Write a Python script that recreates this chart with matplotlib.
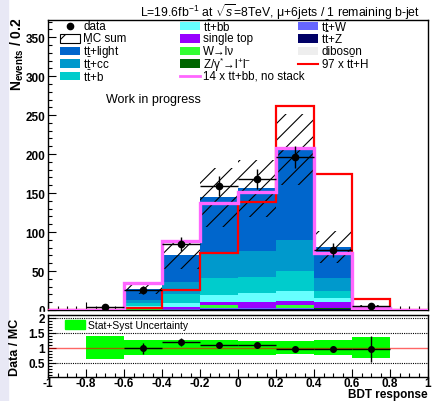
import numpy as np
import matplotlib.pyplot as plt
from matplotlib.patches import Rectangle
from matplotlib.ticker import MultipleLocator

plt.rcParams['font.family'] = ['Liberation Sans', 'DejaVu Sans']
plt.rcParams['mathtext.fontset'] = 'custom'
plt.rcParams['mathtext.rm'] = 'Liberation Sans'
plt.rcParams['mathtext.it'] = 'Liberation Sans:italic'
plt.rcParams['mathtext.bf'] = 'Liberation Sans:bold'
plt.rcParams['hatch.linewidth'] = 0.8

# BDT response bins
bin_edges = np.array([-1.0, -0.8, -0.6, -0.4, -0.2, 0.0, 0.2, 0.4, 0.6, 0.8, 1.0])

# MC samples (events per bin), stacked bottom -> top
ttZ      = np.array([0, 0.0, 0.3, 0.6, 1.2, 1.2, 1.5, 1.2, 0.1, 0])
ttW      = np.array([0, 0.0, 0.2, 0.4, 0.8, 0.8, 1.0, 0.7, 0.1, 0])
zjets    = np.array([0, 0.0, 0.1, 0.2, 0.5, 0.3, 0.5, 0.3, 0.0, 0])
wjets    = np.array([0, 0.0, 0.4, 0.5, 4.0, 0.5, 3.0, 0.5, 0.0, 0])
stop     = np.array([0, 0.0, 1.0, 2.5, 4.0, 7.8, 5.0, 7.0, 0.2, 0])
diboson  = np.array([0, 0.0, 0.1, 0.1, 0.2, 0.2, 0.2, 0.1, 0.0, 0])
ttbb     = np.array([0, 0.0, 3.0, 4.5, 8.5, 10.8, 13.0, 5.2, 0.4, 0])
ttb      = np.array([0, 0.1, 3.5, 11.5, 22.0, 21.3, 26.4, 9.0, 0.7, 0])
ttcc     = np.array([0, 0.3, 4.0, 15.5, 33.0, 33.3, 39.6, 17.0, 1.2, 0])
ttlight  = np.array([0, 0.8, 14.0, 35.0, 70.5, 80.0, 116.0, 40.0, 2.5, 0])

# relative stat+syst uncertainty on the MC sum
mc_unc = np.array([0, 0.375, 0.24, 0.26, 0.26, 0.235, 0.22, 0.25, 0.35, 0])

# overlays (not stacked)
tth_x97  = np.array([0, 0, 2, 26, 73, 139, 262, 174, 14, 0])
ttbb_x14 = np.array([0, 0, 34, 89, 137, 152, 208, 73, 2, 0])

# data
data = np.array([0, 4, 26, 85, 159, 168, 196, 77, 5, 0])

stack = [
    (ttZ, '#000066'), (ttW, '#6666ff'), (zjets, '#006600'), (wjets, '#33ff33'),
    (stop, '#9900ff'), (diboson, '#eeeeee'), (ttbb, '#66ffff'), (ttb, '#00cccc'),
    (ttcc, '#0099cc'), (ttlight, '#0066cc'),
]

centers = 0.5 * (bin_edges[1:] + bin_edges[:-1])
width = bin_edges[1] - bin_edges[0]

fig = plt.figure(figsize=(4.32, 4.02), dpi=100)
fig.add_artist(Rectangle((0, 0), 8 / 432, 1, transform=fig.transFigure,
                         color='#e8e8f5', zorder=0))

ax = fig.add_axes([48 / 432, 1 - 311 / 402, 380 / 432, 290 / 402])
rax = fig.add_axes([48 / 432, 1 - 378 / 402, 380 / 432, 62 / 402])
rax.set_zorder(1)
# lower pad hides the bottom of the "0" label like in ROOT
fig.add_artist(Rectangle((20 / 432, 1 - 319 / 402), 27 / 432, 6 / 402,
                         transform=fig.transFigure, color='white', zorder=0.5))

# stacked MC
bottom = np.zeros(len(centers))
for vals, col in stack:
    ax.stairs(bottom + vals, bin_edges, baseline=bottom.copy(), fill=True,
              color=col, lw=0, zorder=2)
    bottom = bottom + vals
mc = bottom

# MC uncertainty hatch
ax.bar(centers, 2 * mc * mc_unc, width=width, bottom=mc * (1 - mc_unc),
       facecolor='none', edgecolor='black', hatch='//', linewidth=0, zorder=3)

ax.stairs(tth_x97, bin_edges, color='#ff0000', lw=1.6, zorder=4)
ax.stairs(ttbb_x14, bin_edges, color='#ff66ff', lw=2.4, zorder=5)

m = data > 0
ax.errorbar(centers[m], data[m], xerr=width / 2, yerr=np.sqrt(data[m]),
            fmt='o', color='black', ms=4.5, elinewidth=1, capsize=0, zorder=6)

ax.set_xlim(-1, 1)
ax.set_ylim(0, 372)
ax.yaxis.set_major_locator(MultipleLocator(50))
ax.yaxis.set_minor_locator(MultipleLocator(10))
ax.xaxis.set_major_locator(MultipleLocator(0.2))
ax.xaxis.set_minor_locator(MultipleLocator(0.05))
ax.tick_params(which='both', direction='in', top=False, right=False)
ax.tick_params(which='major', length=6, width=0.8)
ax.tick_params(which='minor', length=3, width=0.8)
ax.tick_params(axis='y', labelsize=8.5, pad=2)
ax.tick_params(axis='x', labelbottom=False)
for lab in ax.get_yticklabels():
    lab.set_fontweight('bold')
for s in ax.spines.values():
    s.set_linewidth(1)

ax.text(0.153, 0.728, 'Work in progress', transform=ax.transAxes,
        fontsize=9, va='center', ha='left')

# legend, three fixed columns (ROOT style)
tt = r'$\mathrm{t\bar{t}}$'
legend_cols = [
    [('marker', 'black', 'data'), ('hatch', 'white', 'MC sum'),
     ('box', '#0066cc', tt + '+light'), ('box', '#0099cc', tt + '+cc'),
     ('box', '#00cccc', tt + '+b')],
    [('box', '#66ffff', tt + '+bb'), ('box', '#9900ff', 'single top'),
     ('box', '#33ff33', 'W→lν'), ('box', '#006600', r'Z/γ$^{*}$→l$^{+}$l$^{-}$'),
     ('line', '#ff66ff', '14 x tt+bb, no stack')],
    [('box', '#6666ff', tt + '+W'), ('box', '#000066', tt + '+Z'),
     ('box', '#eeeeee', 'diboson'), ('line', '#ff0000', '97 x ' + tt + '+H')],
]
col_px = [60, 180, 298]
row_px = [27, 39.5, 52, 64.5, 77]
sw, sh = 20 / 380, 8.5 / 290
for xp, entries in zip(col_px, legend_cols):
    x0 = (xp - 48) / 380
    for (kind, col, label), yp in zip(entries, row_px):
        yc = (311 - yp) / 290
        if kind == 'marker':
            ax.plot([x0 + sw / 2], [yc], 'o', color=col, ms=4.5,
                    transform=ax.transAxes, clip_on=False, zorder=8)
        elif kind == 'line':
            ax.plot([x0, x0 + sw], [yc, yc], color=col,
                    lw=2 if col == '#ff66ff' else 1.5,
                    transform=ax.transAxes, clip_on=False, zorder=8)
        else:
            ax.add_patch(Rectangle((x0, yc - sh / 2), sw, sh,
                                   transform=ax.transAxes, facecolor=col,
                                   edgecolor='black' if kind == 'hatch' else 'none',
                                   hatch='/' if kind == 'hatch' else None,
                                   lw=0.8, zorder=8, clip_on=False))
        ax.text(x0 + 23 / 380, yc, label, transform=ax.transAxes,
                fontsize=8.4, va='center', ha='left', zorder=8)

# ratio pad
ratio = np.full(len(centers), np.nan)
rerr = np.full(len(centers), np.nan)
ok = (mc > 0) & (data > 0)
ratio[ok] = data[ok] / mc[ok]
rerr[ok] = np.sqrt(data[ok]) / mc[ok]
show = ok & (ratio < 2.09)

rax.stairs(1 + mc_unc, bin_edges, baseline=1 - mc_unc, fill=True,
           color='#00ff00', lw=0, zorder=1)
for yv in [0.5, 1.5, 2.0]:
    rax.axhline(yv, color='black', lw=0.8, ls=(0, (1, 1)), zorder=0)
rax.axhline(1, color='#ff0000', lw=1, alpha=0.6, zorder=2)
rax.errorbar(centers[show], ratio[show], xerr=width / 2, yerr=rerr[show],
             fmt='o', color='black', ms=4, elinewidth=1, capsize=0, zorder=3)

rax.set_xlim(-1, 1)
rax.set_ylim(0.02, 2.09)
rax.yaxis.set_minor_locator(MultipleLocator(0.1))
rax.xaxis.set_minor_locator(MultipleLocator(0.05))
rax.set_yticks([0.5, 1, 1.5, 2])
rax.set_yticklabels(['0.5', '1', '1.5', '2'])
rax.set_xticks(bin_edges)
rax.set_xticklabels(['-1', '-0.8', '-0.6', '-0.4', '-0.2', '0', '0.2', '0.4',
                     '0.6', '0.8', '1'])
rax.tick_params(which='both', direction='in', top=False, right=False)
rax.tick_params(which='major', length=6, width=0.8)
rax.tick_params(which='minor', length=3, width=0.8)
rax.tick_params(axis='y', labelsize=8.5, pad=2)
rax.tick_params(axis='x', labelsize=8.5, pad=0)
for lab in rax.get_xticklabels() + rax.get_yticklabels():
    lab.set_fontweight('bold')
for s in rax.spines.values():
    s.set_linewidth(1)

rax.legend([Rectangle((0, 0), 1, 1, color='#00ff00')], ['Stat+Syst Uncertainty'],
           loc='upper left', bbox_to_anchor=(0.045, 0.92), frameon=False,
           fontsize=7.5, handlelength=1.92, handleheight=0.9,
           handletextpad=0.3, borderpad=0, borderaxespad=0)

# titles and axis labels
fig.text(420 / 432, 1 - 17 / 402,
         r'L=19.6fb$^{-1}$ at $\sqrt{s}$=8TeV, μ+6jets / 1 remaining b-jet',
         ha='right', va='baseline', fontsize=8.8)
fig.text(17 / 432, 1 - 17 / 402, r'$\mathbf{N_{events}}$ / 0.2', rotation=90,
         ha='center', va='top', fontsize=10, fontweight='bold')
fig.text(15 / 432, 1 - 347 / 402, 'Data / MC', rotation=90,
         ha='center', va='center', fontsize=9, fontweight='bold')
fig.text(428 / 432, 1 - 395 / 402, 'BDT response', ha='right', va='center',
         fontsize=8.5, fontweight='bold')

fig.savefig('out.png', dpi=100)
